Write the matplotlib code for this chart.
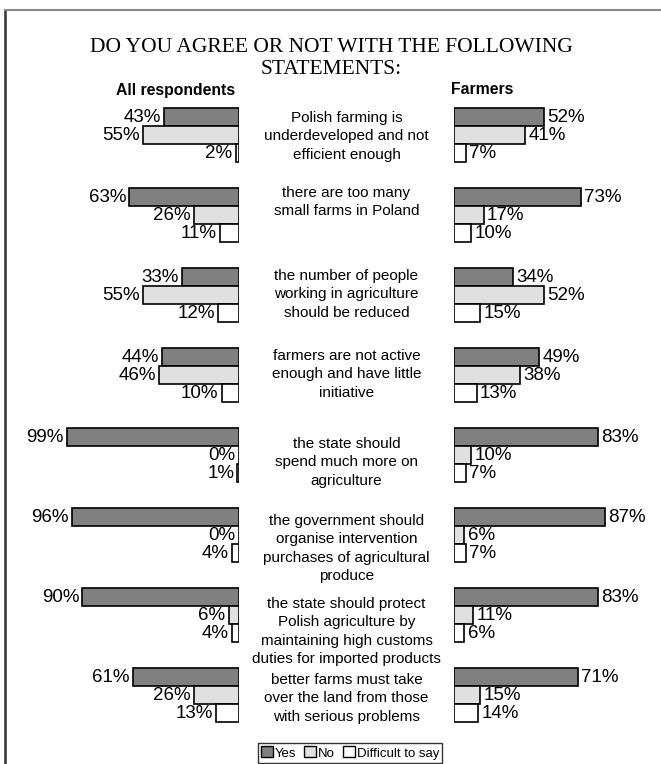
import matplotlib
matplotlib.use("Agg")
import matplotlib.pyplot as plt
from matplotlib.patches import Patch
from matplotlib.lines import Line2D

statements = [
    "Polish farming is\nunderdeveloped and not\nefficient enough",
    "there are too many\nsmall farms in Poland",
    "the number of people\nworking in agriculture\nshould be reduced",
    "farmers are not active\nenough and have little\ninitiative",
    "the state should\nspend much more on\nagriculture",
    "the government should\norganise intervention\npurchases of agricultural\nproduce",
    "the state should protect\nPolish agriculture by\nmaintaining high customs\nduties for imported products",
    "better farms must take\nover the land from those\nwith serious problems",
]
all_yes = [43, 63, 33, 44, 99, 96, 90, 61]
all_no = [55, 26, 55, 46, 0, 0, 6, 26]
all_dk = [2, 11, 12, 10, 1, 4, 4, 13]
farm_yes = [52, 73, 34, 49, 83, 87, 83, 71]
farm_no = [41, 17, 52, 38, 10, 6, 11, 15]
farm_dk = [7, 10, 15, 13, 7, 7, 6, 14]
series_names = ["Yes", "No", "Difficult to say"]
colors = ["#808080", "#e0e0e0", "#ffffff"]

W, H = 661, 764
fig = plt.figure(figsize=(W / 100, H / 100), dpi=100)
SANS = ["Liberation Sans", "DejaVu Sans"]
SERIF = ["Liberation Serif", "DejaVu Serif"]

def px_axes(x0, y0, x1, y1):
    return fig.add_axes([x0 / W, 1 - y1 / H, (x1 - x0) / W, (y1 - y0) / H])

# frame lines
fig.add_artist(Line2D([5 / W, 5 / W], [0, 1 - 10 / H], color="#333333", lw=1.8))
fig.add_artist(Line2D([5 / W, 1], [1 - 10 / H, 1 - 10 / H], color="#888888", lw=1.5))

Y0, Y1 = 95, 735
PX_PER_UNIT = (Y1 - Y0) / 8
n = len(statements)
off = 0.225
bh = 0.215
text_shift_px = [1, -4, -1, -1, 7, 4, 7, 3]

axL = px_axes(65, Y0, 239, Y1)
axR = px_axes(454, Y0, 628, Y1)
axM = px_axes(239, Y0, 454, Y1)

for ax, data, side in [(axL, (all_yes, all_no, all_dk), "L"), (axR, (farm_yes, farm_no, farm_dk), "R")]:
    for k, vals in enumerate(data):
        ys = [i + (k - 1) * off for i in range(n)]
        ax.barh(ys, vals, height=bh, color=colors[k], edgecolor="black", linewidth=1.2)
        for y, v in zip(ys, vals):
            if side == "L":
                ax.text(v + 1.8, y + 0.01, f"{v}%", ha="right", va="center", fontsize=13.5, family=SANS)
            else:
                ax.text(v + 1.8, y + 0.01, f"{v}%", ha="left", va="center", fontsize=13.5, family=SANS)
    ax.set_xlim(0, 100)
    ax.set_ylim(n - 0.5, -0.5)
    ax.axis("off")
axL.invert_xaxis()

axM.set_xlim(0, 1)
axM.set_ylim(n - 0.5, -0.5)
axM.axis("off")
for i, s in enumerate(statements):
    axM.text(0.5, i - 0.31 + text_shift_px[i] / PX_PER_UNIT, s, ha="center", va="top",
             fontsize=11, family=SANS, linespacing=1.38)

fig.text(331 / W, 1 - 47 / H, "DO YOU AGREE OR NOT WITH THE FOLLOWING", ha="center", va="center",
         fontsize=15.5, family=SERIF)
fig.text(331 / W, 1 - 70 / H, "STATEMENTS:", ha="center", va="center", fontsize=15.5, family=SERIF)
fig.text(176 / W, 1 - 90 / H, "All respondents", ha="center", va="center", fontsize=11.3,
         fontweight="bold", family=SANS)
fig.text(482 / W, 1 - 90 / H, "Farmers", ha="center", va="center", fontsize=11.3,
         fontweight="bold", family=SANS)

handles = [Patch(facecolor=c, edgecolor="black", linewidth=1.0) for c in colors]
leg = fig.legend(handles, series_names, loc="center", bbox_to_anchor=(350 / W, 1 - 753 / H),
                 ncol=3, frameon=True, fancybox=False, edgecolor="black",
                 prop={"family": SANS, "size": 9.5}, handlelength=0.9, handleheight=0.9,
                 handletextpad=0.15, columnspacing=0.6, borderpad=0.25, borderaxespad=0)
leg.get_frame().set_linewidth(1.0)

fig.savefig("out.png", dpi=100)
